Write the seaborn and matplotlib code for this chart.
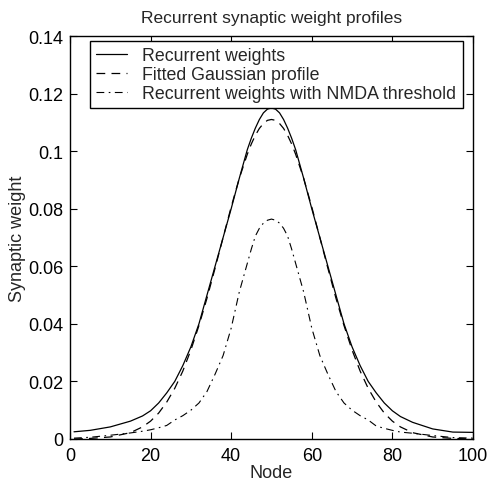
import numpy as np
import pandas as pd
import seaborn as sns
import matplotlib.pyplot as plt

nodes = [1, 5, 10, 15, 18, 20, 22, 24, 26, 28, 30, 32, 34, 36, 38, 40, 42, 44, 45, 46, 47, 48, 49, 50,
         51, 52, 53, 54, 55, 56, 58, 60, 62, 64, 66, 68, 70, 72, 74, 76, 78, 80, 82, 85, 90, 95, 100]

# Recurrent weights (solid)
recurrent = [0.0025, 0.0030, 0.0042, 0.0062, 0.0080, 0.0098, 0.0125, 0.0160, 0.0200, 0.0255,
             0.0320, 0.0400, 0.0500, 0.0600, 0.0700, 0.0800, 0.0905, 0.1005, 0.1045, 0.1080,
             0.1110, 0.1133, 0.1146, 0.1150,
             0.1146, 0.1133, 0.1110, 0.1080, 0.1045, 0.1005, 0.0905, 0.0800, 0.0700, 0.0600,
             0.0500, 0.0400, 0.0320, 0.0255, 0.0200, 0.0160, 0.0125, 0.0098, 0.0078, 0.0058,
             0.0035, 0.0024, 0.0023]

# Fitted Gaussian profile (dashed)
gaussian = [0.0000, 0.0002, 0.0007, 0.0022, 0.0042, 0.0062, 0.0090, 0.0128, 0.0176, 0.0236,
            0.0309, 0.0394, 0.0489, 0.0593, 0.0700, 0.0806, 0.0905, 0.0989, 0.1025, 0.1055,
            0.1079, 0.1096, 0.1107, 0.1110,
            0.1107, 0.1096, 0.1079, 0.1055, 0.1025, 0.0989, 0.0905, 0.0806, 0.0700, 0.0593,
            0.0489, 0.0394, 0.0309, 0.0236, 0.0176, 0.0128, 0.0090, 0.0062, 0.0042, 0.0022,
            0.0007, 0.0002, 0.0000]

# Recurrent weights with NMDA threshold (dash-dot)
nmda = [0.0003, 0.0006, 0.0013, 0.0021, 0.0027, 0.0032, 0.0039, 0.0047, 0.0066, 0.0081,
        0.0100, 0.0125, 0.0165, 0.0225, 0.0290, 0.0385, 0.0510, 0.0610, 0.0660, 0.0705,
        0.0732, 0.0750, 0.0760, 0.0764,
        0.0760, 0.0750, 0.0732, 0.0705, 0.0660, 0.0610, 0.0510, 0.0385, 0.0290, 0.0225,
        0.0165, 0.0125, 0.0100, 0.0081, 0.0066, 0.0045, 0.0037, 0.0030, 0.0024, 0.0020,
        0.0012, 0.0005, 0.0003]

xticks = [0, 20, 40, 60, 80, 100]
yticks = [0, 0.02, 0.04, 0.06, 0.08, 0.1, 0.12, 0.14]
ytick_labels = ['0', '0.02', '0.04', '0.06', '0.08', '0.1', '0.12', '0.14']

sns.set_style('ticks')
plt.rcParams['font.family'] = ['Liberation Sans', 'DejaVu Sans']

fig = plt.figure(figsize=(4.88, 4.85), dpi=100)
ax = fig.add_axes([0.1434, 0.0928, 0.8258, 0.8309])

df = pd.DataFrame({'node': nodes, 'recurrent': recurrent, 'gaussian': gaussian, 'nmda': nmda})

sns.lineplot(data=df, x='node', y='recurrent', ax=ax, color='black', lw=0.9,
             label='Recurrent weights')
sns.lineplot(data=df, x='node', y='gaussian', ax=ax, color='black', lw=0.9,
             linestyle=(0, (7, 5)), label='Fitted Gaussian profile')
sns.lineplot(data=df, x='node', y='nmda', ax=ax, color='black', lw=0.8,
             linestyle=(0, (7, 4, 1.5, 4)), label='Recurrent weights with NMDA threshold')

ax.set_xlim(0, 100)
ax.set_ylim(0, 0.14)
ax.set_xticks(xticks)
ax.set_xticklabels([str(t) for t in xticks])
ax.set_yticks(yticks)
ax.set_yticklabels(ytick_labels)
ax.tick_params(direction='in', length=5, width=0.8, labelsize=13, colors='black',
               top=True, right=True)
ax.tick_params(axis='x', pad=6)
ax.tick_params(axis='y', pad=5)

for sp in ax.spines.values():
    sp.set_visible(True)
    sp.set_color('black')
    sp.set_linewidth(1.0)

ax.set_title('Recurrent synaptic weight profiles', fontsize=12.5, pad=10)
ax.set_xlabel('Node', fontsize=13, labelpad=0)
ax.set_ylabel('Synaptic weight', fontsize=13, labelpad=1)

leg = ax.legend(loc='upper left', bbox_to_anchor=(0.0496, 0.9876), fontsize=12.8,
                frameon=True, fancybox=False, framealpha=1, edgecolor='black',
                handlelength=1.75, handletextpad=0.85, borderpad=0.35, labelspacing=0.1,
                borderaxespad=0.0)
leg.get_frame().set_linewidth(1.0)

plt.savefig('out.png', dpi=100)
